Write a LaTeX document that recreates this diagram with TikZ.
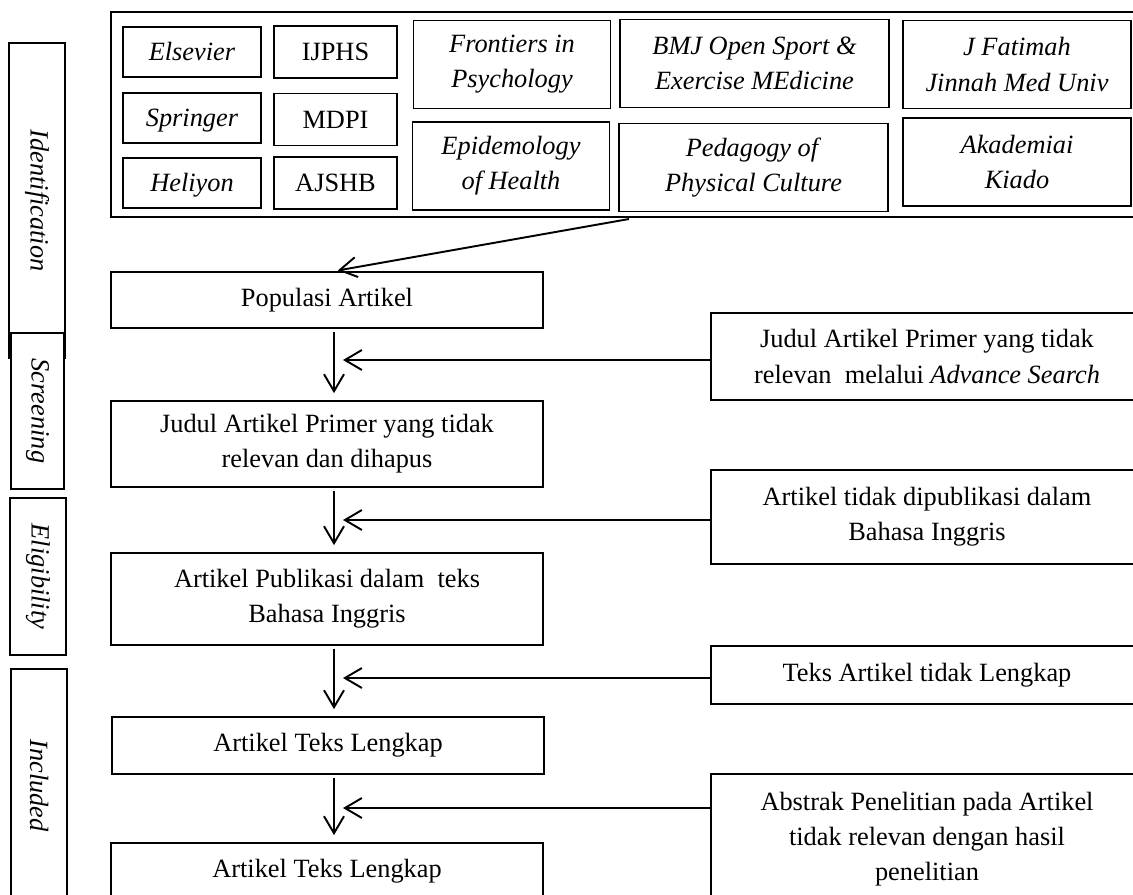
\documentclass[tikz,border=0pt]{standalone}
\usepackage{fontspec}
\setmainfont{Liberation Serif}
\usetikzlibrary{arrows.meta, calc}

\begin{document}
\begin{tikzpicture}[x=0.02cm, y=-0.02cm,
    box/.style={draw, line width=1pt, align=center, inner sep=0pt,
      font=\fontsize{15}{20}\selectfont},
    flow/.style={box, minimum width=8.64cm},
    pub/.style={box, minimum height=1.0cm, text height=12pt, text depth=2pt},
    journal/.style={box, minimum height=1.76cm},
    stage/.style={box, rotate=-90, minimum height=1.12cm,
      font=\fontsize{15}{20}\selectfont\itshape},
    arr/.style={-{Straight Barb[length=0.34cm, width=0.4cm]}, line width=1.1pt}]

  \useasboundingbox (0,0) rectangle (1133,894);

  % stages
  \node[stage, minimum width=6.3cm] (ident) at (37,200.5) {Identification};
  \node[stage, minimum width=3.12cm, minimum height=1.06cm, fill=white] (screen) at (37.5,411) {Screening};
  \node[stage, minimum width=3.14cm] (elig) at (38,576.5) {Eligibility};
  \node[stage, minimum width=4.66cm] (incl) at (39,785.5) {Included};

  % sources
  \node[box, minimum width=20.58cm, minimum height=4.1cm] (src) at (625.5,114.5) {};

  \foreach \n/\t/\y in {els/Elsevier/52, spr/Springer/118, hel/Heliyon/183}
    \node[pub, minimum width=2.76cm] (\n) at (192,\y) {\textit{\t}};
  \foreach \n/\t/\y in {ijphs/IJPHS/52, mdpi/MDPI/119.5, ajshb/AJSHB/183}
    \node[pub, minimum width=2.46cm, minimum height=1.04cm] (\n) at (335.5,\y) {\t};

  \node[journal, minimum width=3.94cm] (front) at (512,64.5) {\textit{Frontiers in}\\\textit{Psychology}};
  \node[journal, minimum width=3.94cm] (epid) at (511,166) {\textit{Epidemology}\\\textit{of Health}};
  \node[journal, minimum width=5.38cm] (bmj) at (754.5,63.5) {\textit{BMJ Open Sport \&}\\\textit{Exercise MEdicine}};
  \node[journal, minimum width=5.38cm] (ped) at (753.5,167.5) {\textit{Pedagogy of}\\\textit{Physical Culture}};
  \node[journal, minimum width=4.56cm] (jfat) at (1017,64.5) {\textit{J Fatimah}\\\textit{Jinnah Med Univ}};
  \node[journal, minimum width=4.56cm] (akad) at (1017,162) {\textit{Akademiai}\\\textit{Kiado}};

  % main flow
  \node[flow, minimum height=1.12cm] (pop) at (327,300) {Populasi Artikel};
  \node[flow, minimum height=1.72cm] (judul) at (327,444) {Judul Artikel Primer yang tidak\\relevan dan dihapus};
  \node[flow, minimum height=1.84cm] (publ) at (327,599) {Artikel Publikasi dalam\ \ teks\\Bahasa Inggris};
  \node[flow, minimum height=1.14cm] (teks1) at (328,745.5) {Artikel Teks Lengkap};
  \node[flow, minimum height=1.14cm] (teks2) at (327,871.5) {Artikel Teks Lengkap};

  % excluded
  \node[flow, minimum height=1.74cm] (r1) at (927,356.5) {Judul Artikel Primer yang tidak\\relevan\ \ melalui \textit{Advance Search}};
  \node[flow, minimum height=1.88cm] (r2) at (927,517) {Artikel tidak dipublikasi dalam\\Bahasa Inggris};
  \node[flow, minimum height=1.16cm] (r3) at (927,675) {Teks Artikel tidak Lengkap};
  \node[flow, minimum height=2.62cm] (r4) at (927,839.5) {Abstrak Penelitian pada Artikel\\tidak relevan dengan hasil\\penelitian};

  % arrows
  \coordinate (axis) at (334,0);
  \coordinate (start) at (629,219);
  \draw[arr, shorten >=2.2pt] (start) -- (pop.north -| axis);

  \foreach \a/\b in {pop/judul, judul/publ, publ/teks1, teks1/teks2}
    \draw[arr, shorten <=1.5pt, shorten >=4pt] (\a.south -| axis) -- (\b.north -| axis);

  \foreach \r/\y in {r1/360, r2/520, r3/678, r4/808} {
    \coordinate (h\r) at (343,\y);
    \draw[arr] (\r.west |- h\r) -- (h\r);
  }
\end{tikzpicture}
\end{document}
